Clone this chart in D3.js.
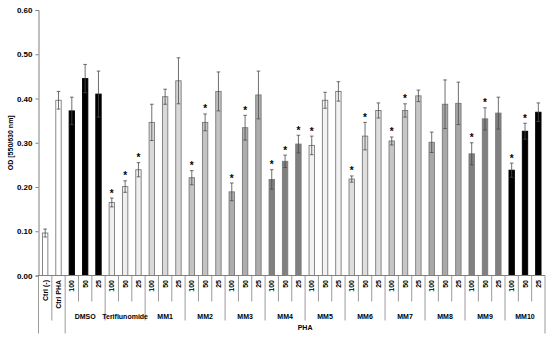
<!DOCTYPE html>
<html lang="en">
<head>
<meta charset="UTF-8">
<title>OD chart</title>
<style>
  body { margin: 0; background: #fff; }
  svg { display: block; font-family: "Liberation Sans", Arial, sans-serif; }
</style>
</head>
<body>
<svg id="svg"></svg>
<script src="https://d3js.org/d3.v7.min.js"></script>
<script>
// data
const ctrlLabels = ["Ctrl (-)", "Ctrl PHA"];
const groups = ["DMSO", "Teriflunomide", "MM1", "MM2", "MM3", "MM4", "MM5", "MM6", "MM7", "MM8", "MM9", "MM10"];
const doses = ["100", "50", "25"];
const outerLabel = "PHA";

const means = [0.096, 0.396,
  0.372, 0.445, 0.410,
  0.165, 0.201, 0.239,
  0.346, 0.404, 0.440,
  0.221, 0.346, 0.416,
  0.189, 0.334, 0.408,
  0.217, 0.258, 0.297,
  0.294, 0.396, 0.416,
  0.218, 0.315, 0.373,
  0.304, 0.373, 0.406,
  0.301, 0.387, 0.389,
  0.275, 0.354, 0.367,
  0.238, 0.326, 0.369];
const errors = [0.009, 0.020,
  0.031, 0.032, 0.052,
  0.010, 0.013, 0.016,
  0.041, 0.017, 0.052,
  0.016, 0.019, 0.044,
  0.020, 0.028, 0.054,
  0.022, 0.014, 0.020,
  0.021, 0.018, 0.022,
  0.007, 0.031, 0.017,
  0.009, 0.015, 0.013,
  0.023, 0.055, 0.048,
  0.025, 0.025, 0.036,
  0.016, 0.018, 0.021];
const significant = [0, 0,
  0, 0, 0,
  1, 1, 1,
  0, 0, 0,
  1, 1, 0,
  1, 1, 0,
  1, 1, 1,
  1, 0, 0,
  1, 1, 0,
  1, 1, 0,
  0, 0, 0,
  1, 1, 0,
  1, 1, 0];
const ctrlFills = ["#ffffff", "#ffffff"];
const groupFills = ["#000000", "#efefef", "#d9d9d9", "#c3c3c3", "#adadad", "#808080",
  "#f2f2f2", "#dedede", "#c6c6c6", "#a8a8a8", "#808080", "#000000"];
const yTicks = [0, 0.1, 0.2, 0.3, 0.4, 0.5, 0.6];

// build the flat category table
const rows = [];
ctrlLabels.forEach((l, i) => rows.push({ label: l, group: null, fill: ctrlFills[i] }));
groups.forEach((g, gi) => doses.forEach(d => rows.push({ label: d, group: g, fill: groupFills[gi] })));
rows.forEach((r, i) => { r.i = i; r.v = means[i]; r.e = errors[i]; r.sig = significant[i]; });

const width = 550, height = 341;
const svg = d3.select("#svg").attr("width", width).attr("height", height);

const x = d3.scaleBand().domain(rows.map(r => r.i)).range([38.5, 545]).padding(0);
const y = d3.scaleLinear().domain([0, 0.6]).range([275.5, 10]);
const barW = 5.4;
const axisColor = "#808080";

// y axis
const yAxis = svg.append("g").attr("transform", "translate(38.5,0)")
  .call(d3.axisLeft(y).tickValues(yTicks).tickFormat(d3.format(".2f")).tickSize(3).tickPadding(3));
yAxis.select(".domain").attr("stroke", axisColor);
yAxis.selectAll(".tick line").attr("stroke", axisColor);
yAxis.selectAll("text").attr("font-size", 8).attr("font-weight", "bold").attr("fill", "#000")
  .attr("font-family", "Liberation Sans, Arial, sans-serif");

svg.append("text")
  .attr("transform", "translate(13," + y(0.3) + ") rotate(-90)")
  .attr("text-anchor", "middle").attr("font-size", 7).attr("font-weight", "bold")
  .text("OD [550/630 nm]");

// bars
const cx = r => x(r.i) + x.bandwidth() / 2;
svg.append("g").selectAll("rect").data(rows).join("rect")
  .attr("x", r => cx(r) - barW / 2)
  .attr("y", r => y(r.v))
  .attr("width", barW)
  .attr("height", r => y(0) - y(r.v))
  .attr("fill", r => r.fill)
  .attr("stroke", r => r.fill === "#000000" ? "#000" : "#7a7a7a")
  .attr("stroke-width", 0.9);

// error bars
const eb = svg.append("g").attr("stroke", "#4a4a4a").attr("stroke-width", 0.8);
rows.forEach(r => {
  const top = y(r.v + r.e), bot = y(r.v - r.e), c = cx(r);
  eb.append("line").attr("x1", c).attr("x2", c).attr("y1", top).attr("y2", bot);
  eb.append("line").attr("x1", c - 1.8).attr("x2", c + 1.8).attr("y1", top).attr("y2", top);
  eb.append("line").attr("x1", c - 1.8).attr("x2", c + 1.8).attr("y1", bot).attr("y2", bot);
});

// stars
svg.append("g").selectAll("text").data(rows.filter(r => r.sig)).join("text")
  .attr("x", r => cx(r))
  .attr("y", r => y(r.v + r.e) - 1.5)
  .attr("text-anchor", "middle").attr("font-size", 10).attr("font-weight", "bold")
  .text("*");

// x axis baseline
const base = y(0);
svg.append("line").attr("x1", 38.5).attr("x2", 545).attr("y1", base).attr("y2", base)
  .attr("stroke", axisColor);

// category labels (rotated)
svg.append("g").selectAll("text").data(rows).join("text")
  .attr("transform", r => "translate(" + (cx(r) + 2.5) + "," + (base + 4.5) + ") rotate(-90)")
  .attr("text-anchor", "end").attr("font-size", 7).attr("font-weight", "bold")
  .text(r => r.label);

// divider lines of the multi-level axis
const div = svg.append("g").attr("stroke", axisColor).attr("stroke-width", 0.8);
const edge = i => i < rows.length ? x(i) : x(rows.length - 1) + x.bandwidth();
for (let i = 0; i <= rows.length; i++) {
  let len;
  if (i === 0 || i === 2 || i === rows.length) len = 58;
  else if (i === 1 || (i - 2) % 3 === 0) len = 45;
  else len = 26;
  div.append("line").attr("x1", edge(i)).attr("x2", edge(i))
    .attr("y1", base).attr("y2", base + len);
}

// group labels
svg.append("g").selectAll("text").data(groups).join("text")
  .attr("x", (g, gi) => (edge(2 + gi * 3) + edge(5 + gi * 3)) / 2)
  .attr("y", 318.5)
  .attr("text-anchor", "middle").attr("font-size", 7).attr("font-weight", "bold")
  .text(g => g);

svg.append("text")
  .attr("x", (edge(2) + edge(rows.length)) / 2).attr("y", 329.5)
  .attr("text-anchor", "middle").attr("font-size", 7).attr("font-weight", "bold")
  .text(outerLabel);
</script>
</body>
</html>
